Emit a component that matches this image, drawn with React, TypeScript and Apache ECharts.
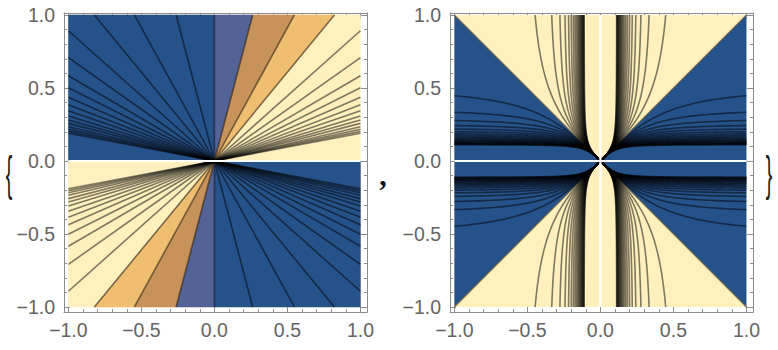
import React, { useEffect, useRef } from "react";
import * as echarts from "echarts";

// ---- axis ticks ----
const majorTicks = [-1, -0.5, 0, 0.5, 1];
const majorTickLabels = ["\u22121.0", "\u22120.5", "0.0", "0.5", "1.0"];
const minorTicks = [-0.9, -0.8, -0.7, -0.6, -0.4, -0.3, -0.2, -0.1, 0.1, 0.2, 0.3, 0.4, 0.6, 0.7, 0.8, 0.9];

// ---- left panel: contour levels of x/y (positive side; mirrored for negative) ----
const leftLevels = [0.262, 0.548, 0.822, 1.121, 1.412, 1.712, 1.992, 2.29, 2.6, 2.9, 3.25, 3.56, 3.88, 4.26, 4.61, 4.93, 5.25];
const leftBandColors = ["#536398", "#c8925b", "#f0be70"];
const leftLowColor = "#26528a";
const leftHighColor = "#fff0be";

// ---- right panel: contour levels of 1/y^2 - 1/x^2 (and its mirror) ----
const rightLevels = [4, 8, 12, 16, 20, 24, 28, 32, 36, 40, 44, 48, 52, 56, 60, 64, 68, 72, 76, 80];
const rightBlue = "#26528a";
const rightYellow = "#fff0be";

const XMIN = -1.03;
const XMAX = 1.045;
const YMIN = -1.035;
const YMAX = 1.015;
const FRAME = "#8c8c8c";
const LABEL = "#646464";
const LINE = "rgba(0,0,0,0.5)";

const gridRects = [
  { left: 64, top: 12.8, width: 303, height: 299.3 },
  { left: 450, top: 12.8, width: 303, height: 299.3 },
];

function axesFor(gridIndex: number, minor: boolean) {
  const tickVals = minor ? minorTicks : majorTicks;
  const len = minor ? 3 : 6;
  const fmt = (v: number) => {
    const i = majorTicks.findIndex((t) => Math.abs(t - v) < 1e-9);
    return i >= 0 ? majorTickLabels[i] : "";
  };
  const mk = (position: string, showLabel: boolean, isX: boolean) => ({
    gridIndex,
    type: "value",
    position,
    min: isX ? XMIN : YMIN,
    max: isX ? XMAX : YMAX,
    axisLine: { show: !minor, onZero: false, lineStyle: { color: FRAME, width: 1 } },
    axisTick: { show: true, inside: true, length: len, customValues: tickVals, lineStyle: { color: FRAME, width: 1 } },
    axisLabel: {
      show: showLabel && !minor,
      customValues: majorTicks,
      formatter: fmt,
      fontSize: 19.5,
      fontFamily: "Liberation Sans",
      color: LABEL,
      margin: isX ? 8 : 9,
    },
    splitLine: { show: false },
  });
  return {
    x: [mk("bottom", true, true), mk("top", false, true)],
    y: [mk("left", true, false), mk("right", false, false)],
  };
}

function leftFill(params: any, api: any) {
  const P = (x: number, y: number) => api.coord([x, y]);
  const poly = (pts: number[][], color: string) => ({
    type: "polygon",
    silent: true,
    shape: { points: pts.map((p) => P(p[0], p[1])) },
    style: { fill: color, stroke: color, lineWidth: 0.5 },
  });
  const children: any[] = [];
  children.push(poly([[-1, -1], [1, -1], [1, 1], [-1, 1]], leftHighColor));
  children.push(poly([[-1, 0], [0, 0], [0, 1], [-1, 1]], leftLowColor));
  children.push(poly([[0, 0], [1, 0], [1, -1], [0, -1]], leftLowColor));
  const bounds = [0, ...leftLevels.slice(0, leftBandColors.length)];
  for (let i = 0; i < leftBandColors.length; i++) {
    const a = bounds[i];
    const b = bounds[i + 1];
    children.push(poly([[0, 0], [a, 1], [b, 1]], leftBandColors[i]));
    children.push(poly([[0, 0], [-a, -1], [-b, -1]], leftBandColors[i]));
  }
  return { type: "group", children };
}

function leftLines(params: any, api: any) {
  const P = (x: number, y: number) => api.coord([x, y]);
  const all = [...leftLevels.map((v) => -v).reverse(), 0, ...leftLevels];
  const children: any[] = [];
  all.forEach((t) => {
    const end = Math.abs(t) <= 1 ? [t, 1] : [Math.sign(t), 1 / Math.abs(t)];
    [1, -1].forEach((s) => {
      children.push({
        type: "polyline",
        silent: true,
        shape: { points: [P(0, 0), P(s * end[0], s * end[1])] },
        style: { stroke: LINE, lineWidth: 1.6, fill: null },
      });
    });
  });
  const a = P(-1, 0);
  const b = P(1, 0);
  children.push({
    type: "line",
    silent: true,
    shape: { x1: a[0], y1: a[1], x2: b[0], y2: b[1] },
    style: { stroke: "#ffffff", lineWidth: 2.2 },
  });
  return { type: "group", children };
}

function rightFill(params: any, api: any) {
  const P = (x: number, y: number) => api.coord([x, y]);
  const poly = (pts: number[][], color: string) => ({
    type: "polygon",
    silent: true,
    shape: { points: pts.map((p) => P(p[0], p[1])) },
    style: { fill: color },
  });
  return {
    type: "group",
    children: [
      poly([[-1, -1], [1, -1], [1, 1], [-1, 1]], rightYellow),
      poly([[0, 0], [-1, 1], [-1, -1]], rightBlue),
      poly([[0, 0], [1, 1], [1, -1]], rightBlue),
    ],
  };
}

function rightLines(params: any, api: any) {
  const P = (x: number, y: number) => api.coord([x, y]);
  const N = 90;
  const xs: number[] = [];
  for (let i = 0; i <= N; i++) xs.push(Math.pow(i / N, 1.7));
  const children: any[] = [];
  [[-1, -1, 1, 1], [-1, 1, 1, -1]].forEach((d) => {
    const a = P(d[0], d[1]);
    const b = P(d[2], d[3]);
    children.push({
      type: "line",
      silent: true,
      shape: { x1: a[0], y1: a[1], x2: b[0], y2: b[1] },
      style: { stroke: "rgba(110,95,60,0.75)", lineWidth: 1.2 },
    });
  });
  rightLevels.forEach((d) => {
    const curve = xs.map((x) => [x, x / Math.sqrt(1 + d * x * x)]);
    [1, -1].forEach((sx) => {
      [1, -1].forEach((sy) => {
        children.push({
          type: "polyline",
          silent: true,
          shape: { points: curve.map((p) => P(sx * p[0], sy * p[1])) },
          style: { stroke: LINE, lineWidth: 1.6, fill: null },
        });
        children.push({
          type: "polyline",
          silent: true,
          shape: { points: curve.map((p) => P(sx * p[1], sy * p[0])) },
          style: { stroke: LINE, lineWidth: 1.6, fill: null },
        });
      });
    });
  });
  const wl = (x1: number, y1: number, x2: number, y2: number) => {
    const a = P(x1, y1);
    const b = P(x2, y2);
    return {
      type: "line",
      silent: true,
      shape: { x1: a[0], y1: a[1], x2: b[0], y2: b[1] },
      style: { stroke: "#ffffff", lineWidth: 2.2 },
    };
  };
  children.push(wl(-1, 0, 1, 0));
  children.push(wl(0, -1, 0, 1));
  return { type: "group", children };
}

export default function App() {
  const ref = useRef<HTMLDivElement>(null);
  useEffect(() => {
    if (!ref.current) return;
    const chart = echarts.init(ref.current, null, { renderer: "svg" });
    const a0 = axesFor(0, false);
    const a1 = axesFor(1, false);
    const a2 = axesFor(2, true);
    const a3 = axesFor(3, true);
    const braceStyle = { fontSize: 28, fontFamily: "Liberation Sans", fill: "#1a1a1a", verticalAlign: "middle", align: "center" };
    const option: any = {
      animation: false,
      backgroundColor: "#ffffff",
      grid: [...gridRects, ...gridRects].map((g) => ({ ...g, containLabel: false })),
      xAxis: [...a0.x, ...a1.x, ...a2.x, ...a3.x],
      yAxis: [...a0.y, ...a1.y, ...a2.y, ...a3.y],
      series: [
        { type: "custom", xAxisIndex: 0, yAxisIndex: 0, data: [[0, 0]], renderItem: leftFill, clip: false, silent: true, z: 1 },
        { type: "custom", xAxisIndex: 0, yAxisIndex: 0, data: [[0, 0]], renderItem: leftLines, clip: false, silent: true, z: 2 },
        { type: "custom", xAxisIndex: 2, yAxisIndex: 2, data: [[0, 0]], renderItem: rightFill, clip: false, silent: true, z: 1 },
        { type: "custom", xAxisIndex: 2, yAxisIndex: 2, data: [[0, 0]], renderItem: rightLines, clip: false, silent: true, z: 2 },
      ],
      graphic: [
        { type: "text", x: 9, y: 174, scaleX: 0.7, scaleY: 1.7, style: { ...braceStyle, text: "{" }, z: 10 },
        { type: "text", x: 383, y: 174, style: { text: ",", fontSize: 30, fontFamily: "Liberation Serif", fill: "#111", fontWeight: "bold", verticalAlign: "middle", align: "center" }, z: 10 },
        { type: "text", x: 769, y: 174, scaleX: 0.7, scaleY: 1.7, style: { ...braceStyle, text: "}" }, z: 10 },
      ],
    };
    chart.setOption(option);
    return () => chart.dispose();
  }, []);
  return <div ref={ref} style={{ position: "absolute", left: 0, top: 0, width: 778, height: 350 }} />;
}
